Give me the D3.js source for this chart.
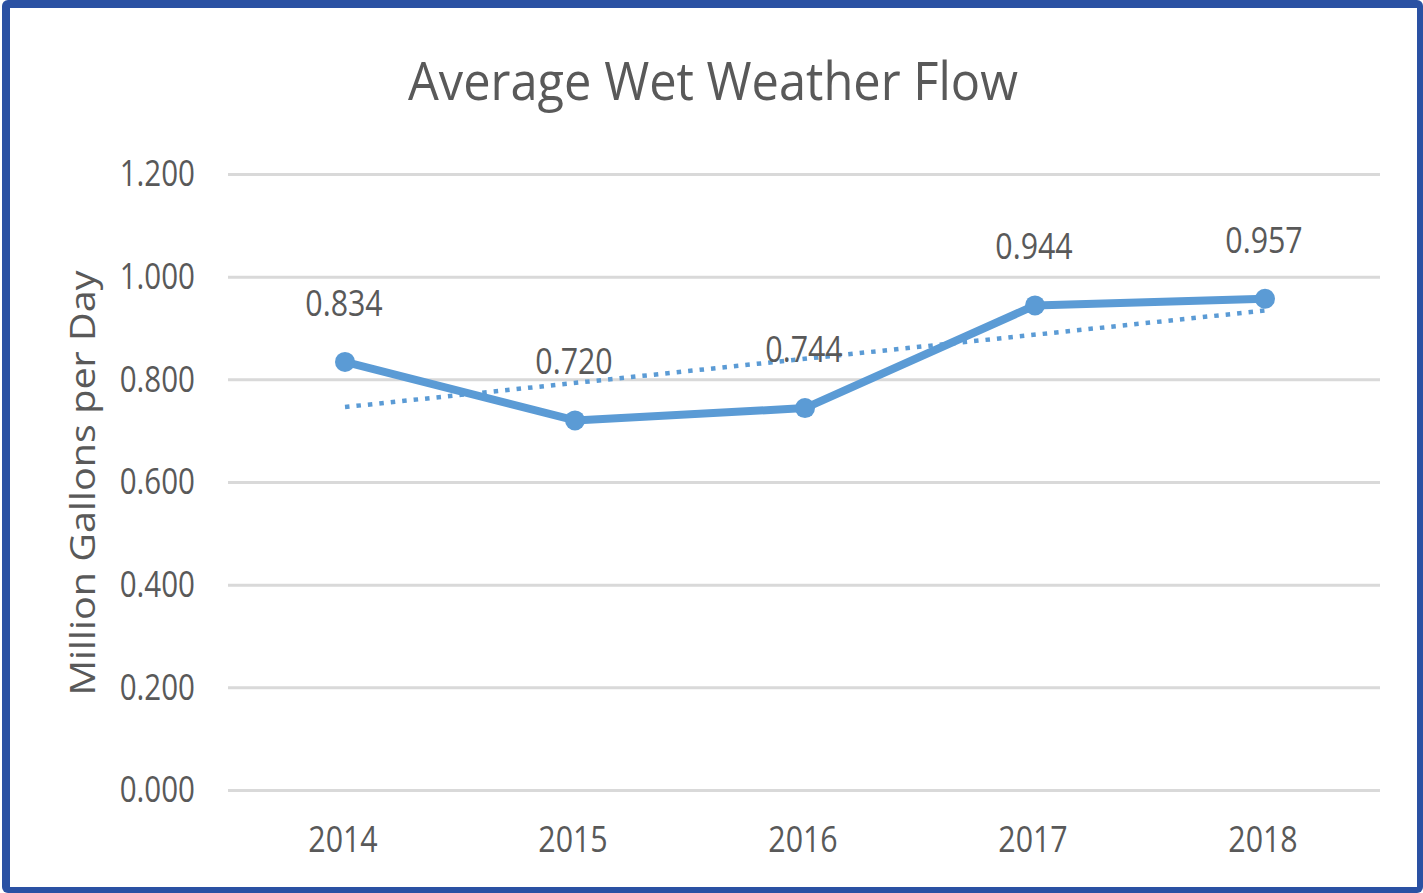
<!DOCTYPE html>
<html>
<head>
<meta charset="utf-8">
<script src="https://cdn.jsdelivr.net/npm/d3@7"></script>
<style>
  body { margin: 0; background: #fff; }
  text { font-family: "Open Sans", sans-serif; fill: #595959; }
</style>
</head>
<body>
<div id="chart"></div>
<script>
// Average Wet Weather Flow - line chart with a linear trendline

// Data
const years = ["2014", "2015", "2016", "2017", "2018"];
const flows = [0.834, 0.720, 0.744, 0.944, 0.957];
// trendline values at first and last year (Excel linear trendline)
const trendYears = ["2014", "2018"];
const trendValues = [0.746, 0.934];
const yTicks = [0, 0.2, 0.4, 0.6, 0.8, 1.0, 1.2];

const W = 1423, H = 893;
const plot = { left: 230, right: 1380, top: 174, bottom: 790 };

const svg = d3.select("#chart")
    .append("svg")
    .attr("width", W)
    .attr("height", H);

// blue frame around the chart
svg.append("rect")
    .attr("x", 2).attr("y", 0)
    .attr("width", W - 2).attr("height", H)
    .attr("rx", 6)
    .attr("fill", "#2A51A3");
svg.append("rect")
    .attr("x", 10).attr("y", 8)
    .attr("width", 1407).attr("height", 879)
    .attr("fill", "#fff");

// squeeze text horizontally so it looks like the narrow Office font
function squeeze(sel, k) {
    sel.each(function () {
        const n = this.getComputedTextLength();
        d3.select(this)
            .attr("textLength", n * k)
            .attr("lengthAdjust", "spacingAndGlyphs");
    });
}

// Scales
const x = d3.scaleBand()
    .domain(years)
    .range([plot.left, plot.right]);
const cx = d => x(d) + x.bandwidth() / 2;

const y = d3.scaleLinear()
    .domain([0, 1.2])
    .range([plot.bottom, plot.top]);

// Y axis with gridlines
const yAxis = svg.append("g")
    .attr("transform", `translate(${plot.left - 2},0)`)
    .call(d3.axisLeft(y)
        .tickValues(yTicks)
        .tickSize(-(plot.right - plot.left + 2))
        .tickPadding(33)
        .tickFormat(d3.format(".3f")));

yAxis.select(".domain").remove();
yAxis.selectAll(".tick line")
    .attr("stroke", "#d9d9d9")
    .attr("stroke-width", 3);
yAxis.selectAll(".tick text")
    .attr("dy", "0.33em")
    .style("font-size", "36px")
    .style("fill", "#595959")
    .style("font-family", "'Open Sans', sans-serif")
    .call(squeeze, 0.82);

// X axis labels (no axis line)
const xAxis = svg.append("g")
    .attr("transform", `translate(0,${plot.bottom})`)
    .call(d3.axisBottom(x).tickSize(0).tickPadding(36));
xAxis.select(".domain").remove();
xAxis.selectAll(".tick text")
    .attr("dy", "0.71em")
    .attr("dx", -2)
    .style("font-size", "37px")
    .style("fill", "#595959")
    .style("font-family", "'Open Sans', sans-serif")
    .call(squeeze, 0.82);

// Title
svg.append("text")
    .attr("x", 713)
    .attr("y", 100)
    .attr("text-anchor", "middle")
    .style("font-size", "53px")
    .text("Average Wet Weather Flow")
    .call(squeeze, 0.92);

// Y axis title
svg.append("text")
    .attr("transform", `translate(95,483) rotate(-90)`)
    .attr("text-anchor", "middle")
    .style("font-size", "35px")
    .text("Million Gallons per Day")
    .call(squeeze, 1.13);

// Trendline (dotted)
svg.append("path")
    .datum(trendYears.map((d, i) => [d, trendValues[i]]))
    .attr("fill", "none")
    .attr("stroke", "#5B9BD5")
    .attr("stroke-width", 4.5)
    .attr("stroke-dasharray", "4.5,7")
    .attr("d", d3.line().x(d => cx(d[0])).y(d => y(d[1])));

// Main line
const data = years.map((d, i) => ({ year: d, value: flows[i] }));

svg.append("path")
    .datum(data)
    .attr("fill", "none")
    .attr("stroke", "#5B9BD5")
    .attr("stroke-width", 8)
    .attr("stroke-linejoin", "round")
    .attr("d", d3.line().x(d => cx(d.year)).y(d => y(d.value)));

// Markers
svg.selectAll(".dot")
    .data(data)
    .enter().append("circle")
    .attr("class", "dot")
    .attr("cx", d => cx(d.year))
    .attr("cy", d => y(d.value))
    .attr("r", 10)
    .attr("fill", "#5B9BD5");

// Data labels
svg.selectAll(".label")
    .data(data)
    .enter().append("text")
    .attr("class", "label")
    .attr("x", d => cx(d.year) - 1)
    .attr("y", d => y(d.value) - 46)
    .attr("text-anchor", "middle")
    .style("font-size", "37px")
    .text(d => d3.format(".3f")(d.value))
    .call(squeeze, 0.82);
</script>
</body>
</html>
